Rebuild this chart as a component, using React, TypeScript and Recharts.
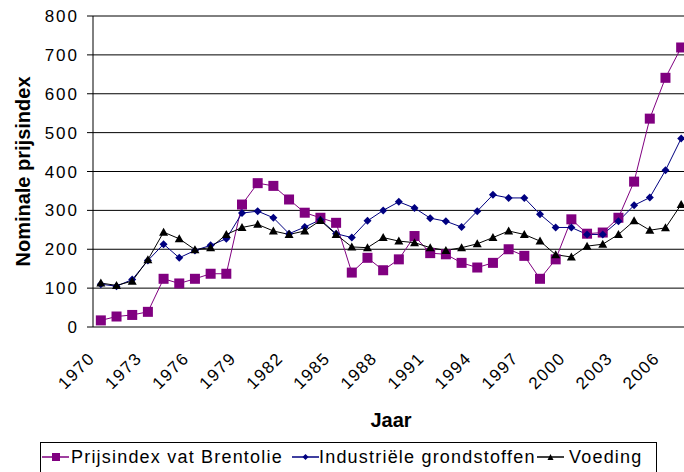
import React from 'react';
import { LineChart, Line, XAxis, YAxis, CartesianGrid, Legend, Label } from 'recharts';

const years = [
  1970, 1971, 1972, 1973, 1974, 1975, 1976, 1977, 1978, 1979,
  1980, 1981, 1982, 1983, 1984, 1985, 1986, 1987, 1988, 1989,
  1990, 1991, 1992, 1993, 1994, 1995, 1996, 1997, 1998, 1999,
  2000, 2001, 2002, 2003, 2004, 2005, 2006, 2007,
];

const brentolie = [
  17, 27, 31, 39, 124, 112, 124, 137, 137, 315,
  370, 363, 328, 294, 281, 268, 140, 178, 146, 174,
  234, 190, 187, 165, 153, 165, 200, 183, 124, 174,
  277, 240, 243, 281, 374, 536, 641, 719,
];

const industrieel = [
  110, 105, 122, 171, 213, 178, 197, 210, 227, 293,
  298, 281, 240, 257, 276, 240, 230, 273, 300, 322,
  306, 280, 272, 257, 298, 340, 332, 332, 290, 256,
  256, 238, 238, 272, 313, 333, 403, 485,
];

const voeding = [
  113, 107, 118, 173, 244, 227, 199, 204, 238, 256,
  264, 247, 238, 247, 274, 238, 206, 204, 230, 221,
  217, 204, 197, 204, 214, 230, 247, 238, 221, 186,
  180, 208, 213, 238, 273, 249, 255, 315,
];

const yTicks = [0, 100, 200, 300, 400, 500, 600, 700, 800];
const yearLabels = [1970, 1973, 1976, 1979, 1982, 1985, 1988, 1991, 1994, 1997, 2000, 2003, 2006];

const seriesNames = ['Prijsindex vat Brentolie', 'Industriële grondstoffen', 'Voeding'];
const PURPLE = '#800080';
const NAVY = '#000080';
const BLACK = '#000000';

const boundaries = years.map((y) => y - 0.5).concat([years[years.length - 1] + 0.5]);
const domain = [boundaries[0], boundaries[boundaries.length - 1]];

const data = years.map((year, i) => ({
  year,
  brent: brentolie[i],
  ind: industrieel[i],
  voed: voeding[i],
}));

const FONT = 'Arial, "Liberation Sans", sans-serif';

const SquareDot = (p: any) => {
  if (p.cx == null || p.cy == null) return <g key={`sq-${p.index}`} />;
  return <rect key={`sq-${p.index}`} x={p.cx - 5} y={p.cy - 5} width={10} height={10} fill={PURPLE} />;
};

const DiamondDot = (p: any) => {
  if (p.cx == null || p.cy == null) return <g key={`di-${p.index}`} />;
  const { cx, cy } = p;
  return (
    <polygon
      key={`di-${p.index}`}
      points={`${cx},${cy - 4} ${cx + 4},${cy} ${cx},${cy + 4} ${cx - 4},${cy}`}
      fill={NAVY}
    />
  );
};

const TriangleDot = (p: any) => {
  if (p.cx == null || p.cy == null) return <g key={`tr-${p.index}`} />;
  const { cx, cy } = p;
  return (
    <polygon
      key={`tr-${p.index}`}
      points={`${cx},${cy - 4.5} ${cx + 4.5},${cy + 3.5} ${cx - 4.5},${cy + 3.5}`}
      fill={BLACK}
    />
  );
};

const XTick = (props: any) => {
  const { x, y, payload } = props;
  return (
    <g transform={`translate(${x - 9},${y}) rotate(-45)`}>
      <text
        x={0}
        y={0}
        dy="0.35em"
        textAnchor="end"
        fill="#000"
        style={{ fontFamily: FONT, fontSize: 17, letterSpacing: 1.5 }}
      >
        {payload.value}
      </text>
    </g>
  );
};

const YLabel = (props: any) => {
  const vb = props.viewBox || {};
  const cx = vb.x + 23;
  const cy = vb.y + vb.height / 2;
  return (
    <text
      x={cx}
      y={cy}
      transform={`rotate(-90 ${cx} ${cy})`}
      textAnchor="middle"
      dominantBaseline="central"
      fill="#000"
      style={{ fontFamily: FONT, fontSize: 20, fontWeight: 'bold' }}
    >
      Nominale prijsindex
    </text>
  );
};

const legendItems = [
  { name: seriesNames[0], color: PURPLE, shape: 'square', iconLeft: 1, textLeft: 30 },
  { name: seriesNames[1], color: NAVY, shape: 'diamond', iconLeft: 251, textLeft: 278 },
  { name: seriesNames[2], color: BLACK, shape: 'triangle', iconLeft: 496, textLeft: 528 },
];

const LegendIcon = ({ color, shape }: { color: string; shape: string }) => (
  <svg width={27} height={12} style={{ display: 'block' }}>
    <line x1={0} y1={6} x2={27} y2={6} stroke={color} strokeWidth={1.5} />
    {shape === 'square' && <rect x={10} y={2} width={8} height={8} fill={color} />}
    {shape === 'diamond' && <polygon points="13.5,3 16.5,6 13.5,9 10.5,6" fill={color} />}
    {shape === 'triangle' && <polygon points="13.5,3 16.5,9 10.5,9" fill={color} />}
  </svg>
);

const CustomLegend = () => (
  <div
    style={{
      position: 'relative',
      boxSizing: 'border-box',
      width: 617,
      height: 36,
      border: '1px solid #000',
      background: '#fff',
      fontFamily: FONT,
    }}
  >
    {legendItems.map((it) => (
      <React.Fragment key={it.name}>
        <div style={{ position: 'absolute', left: it.iconLeft, top: 8 }}>
          <LegendIcon color={it.color} shape={it.shape} />
        </div>
        <div
          style={{
            position: 'absolute',
            left: it.textLeft,
            top: 4,
            fontSize: 18,
            lineHeight: '20px',
            letterSpacing: 1.2,
            whiteSpace: 'nowrap',
            color: '#000',
          }}
        >
          {it.name}
        </div>
      </React.Fragment>
    ))}
  </div>
);

export default function App() {
  return (
    <div
      style={{
        position: 'absolute',
        left: 0,
        top: 0,
        width: 684,
        height: 472,
        overflow: 'hidden',
        background: '#fff',
      }}
    >
      <LineChart
        width={700}
        height={472}
        data={data}
        margin={{ top: 16, right: 11, left: 0, bottom: 9 }}
      >
        <CartesianGrid horizontal vertical={false} stroke="#000" strokeWidth={1} />
        <XAxis
          xAxisId="marks"
          dataKey="year"
          type="number"
          domain={domain}
          ticks={boundaries}
          interval={0}
          height={0}
          tick={false}
          tickLine={{ stroke: '#000' }}
          tickSize={6}
          axisLine={{ stroke: '#000' }}
          allowDecimals
        />
        <XAxis
          xAxisId="labels"
          dataKey="year"
          type="number"
          domain={domain}
          ticks={yearLabels}
          interval={0}
          height={100}
          tick={<XTick />}
          tickLine={false}
          tickSize={0}
          tickMargin={28}
          axisLine={false}
        >
          <Label
            value="Jaar"
            position="insideBottom"
            offset={0}
            style={{ fontFamily: FONT, fontSize: 20, fontWeight: 'bold', fill: '#000' }}
          />
        </XAxis>
        <YAxis
          width={93}
          domain={[0, 800]}
          ticks={yTicks}
          interval={0}
          tickSize={6}
          tickMargin={8}
          tickLine={{ stroke: '#000' }}
          axisLine={{ stroke: '#000' }}
          tick={{ fill: '#000', fontFamily: FONT, fontSize: 17, letterSpacing: 2 }}
        >
          <Label content={<YLabel />} />
        </YAxis>
        <Legend
          content={<CustomLegend />}
          wrapperStyle={{ position: 'absolute', left: 40, top: 442, bottom: 'auto', width: 617, height: 36 }}
        />
        <Line
          xAxisId="labels"
          type="linear"
          dataKey="brent"
          name={seriesNames[0]}
          stroke={PURPLE}
          strokeWidth={1}
          dot={SquareDot}
          activeDot={false}
          isAnimationActive={false}
        />
        <Line
          xAxisId="labels"
          type="linear"
          dataKey="ind"
          name={seriesNames[1]}
          stroke={NAVY}
          strokeWidth={1}
          dot={DiamondDot}
          activeDot={false}
          isAnimationActive={false}
        />
        <Line
          xAxisId="labels"
          type="linear"
          dataKey="voed"
          name={seriesNames[2]}
          stroke={BLACK}
          strokeWidth={1}
          dot={TriangleDot}
          activeDot={false}
          isAnimationActive={false}
        />
      </LineChart>
    </div>
  );
}
